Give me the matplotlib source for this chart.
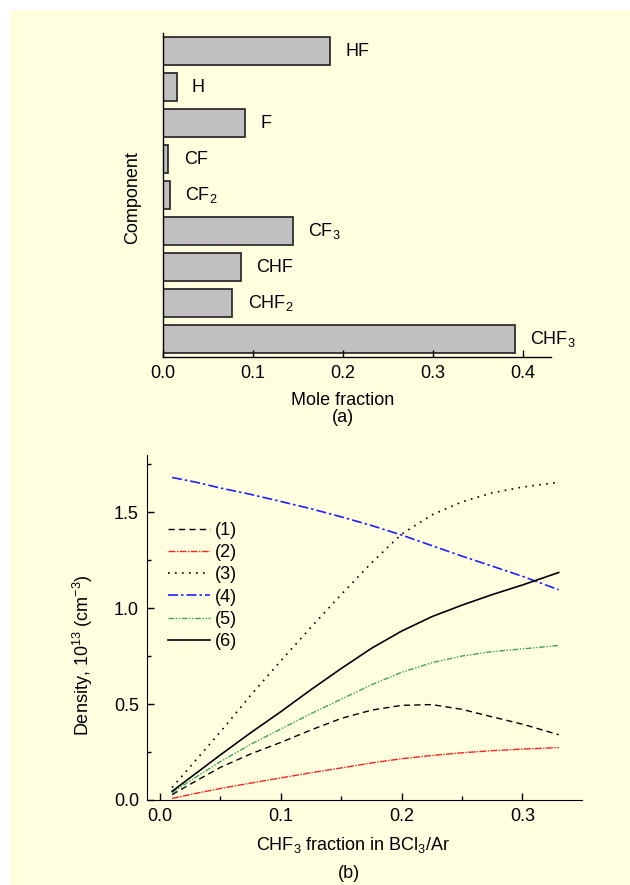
import numpy as np
import matplotlib
matplotlib.use('Agg')
import matplotlib.pyplot as plt
import matplotlib.patches as patches
from matplotlib.ticker import MultipleLocator

plt.rcParams['font.family'] = ['Liberation Sans', 'DejaVu Sans']
plt.rcParams['mathtext.fontset'] = 'custom'
plt.rcParams['mathtext.rm'] = 'Liberation Sans'
plt.rcParams['mathtext.default'] = 'regular'
plt.rcParams['font.size'] = 13

# (a) mole fractions, drawn top to bottom
components = ['HF', 'H', 'F', 'CF', 'CF$_2$', 'CF$_3$', 'CHF', 'CHF$_2$', 'CHF$_3$']
mole_frac = [0.186, 0.015, 0.091, 0.006, 0.0074, 0.144, 0.087, 0.077, 0.391]

# (b) densities vs CHF3 fraction
chf3_frac = [0.01, 0.03, 0.05, 0.075, 0.1, 0.125, 0.15, 0.175, 0.2, 0.225, 0.25, 0.275, 0.3, 0.33]
dens1 = [0.028, 0.10, 0.17, 0.24, 0.30, 0.365, 0.425, 0.468, 0.493, 0.497, 0.472, 0.433, 0.395, 0.34]
dens2 = [0.008, 0.035, 0.06, 0.088, 0.115, 0.142, 0.167, 0.193, 0.215, 0.232, 0.246, 0.257, 0.265, 0.273]
dens3 = [0.065, 0.21, 0.355, 0.545, 0.725, 0.90, 1.07, 1.235, 1.385, 1.485, 1.553, 1.60, 1.63, 1.655]
dens4 = [1.68, 1.655, 1.625, 1.592, 1.555, 1.517, 1.475, 1.43, 1.38, 1.325, 1.27, 1.218, 1.165, 1.095]
dens5 = [0.038, 0.12, 0.20, 0.29, 0.37, 0.45, 0.525, 0.60, 0.665, 0.715, 0.75, 0.773, 0.787, 0.805]
dens6 = [0.045, 0.14, 0.235, 0.35, 0.46, 0.575, 0.685, 0.79, 0.88, 0.955, 1.015, 1.07, 1.12, 1.185]
series_labels = ['(1)', '(2)', '(3)', '(4)', '(5)', '(6)']

W, H = 630, 885
fig = plt.figure(figsize=(W / 100, H / 100), dpi=100)
fig.patch.set_facecolor('white')
fig.patches.append(patches.Rectangle((10 / W, 0), 1 - 10 / W, 1 - 10 / H,
                                     transform=fig.transFigure, facecolor='#ffffe0',
                                     edgecolor='none', zorder=-10))

# ---- panel (a)
ax1 = fig.add_axes([163 / W, 1 - 357 / H, 388 / W, 324 / H])
ax1.set_facecolor('none')
ypos = np.arange(len(components))[::-1]
ax1.barh(ypos, mole_frac, height=0.8, color='#c0c0c0', edgecolor='#202020', linewidth=1.2)
for y, v, name in zip(ypos, mole_frac, components):
    ax1.annotate(name, (v, y), xytext=(11, 0), textcoords='offset points',
                 ha='left', va='center', fontsize=13)
ax1.set_xlim(0, 0.431)
ax1.set_ylim(-0.5, 8.5)
ax1.set_yticks([])
ax1.set_xticks([0.0, 0.1, 0.2, 0.3, 0.4])
ax1.set_xticklabels(['0.0', '0.1', '0.2', '0.3', '0.4'])
ax1.tick_params(axis='x', direction='in', length=5, width=1, pad=6, labelsize=13)
for s in ['top', 'right']:
    ax1.spines[s].set_visible(False)
for s in ['left', 'bottom']:
    ax1.spines[s].set_linewidth(1)
ax1.set_ylabel('Component', fontsize=13)
ax1.yaxis.set_label_coords((133 - 163) / 388, (357 - 198) / 324)
ax1.yaxis.label.set_verticalalignment('center')
ax1.set_xlabel('Mole fraction', fontsize=13)
ax1.xaxis.set_label_coords((343 - 163) / 388, (357 - 400) / 324)
ax1.xaxis.label.set_verticalalignment('center')
fig.text(343 / W, 1 - 418 / H, '(a)', ha='center', va='center', fontsize=13)

# ---- panel (b)
ax2 = fig.add_axes([147.3 / W, 1 - 800 / H, 434.4 / W, 345 / H])
ax2.set_facecolor('none')
styles = [
    dict(color='black', lw=1.0, ls=(0, (4.5, 3))),
    dict(color='#ff2020', lw=1.0, ls=(0, (5, 1, 1, 1))),
    dict(color='black', lw=1.2, ls=(0, (1, 3.2))),
    dict(color='#1f1fff', lw=1.2, ls=(0, (6, 1.8, 1.5, 1.8))),
    dict(color='#3f9f68', lw=1.0, ls=(0, (4, 1.2, 1, 1.2, 1, 1.2))),
    dict(color='black', lw=1.2, ls='-'),
]
for d, lab, st in zip([dens1, dens2, dens3, dens4, dens5, dens6], series_labels, styles):
    ax2.plot(chf3_frac, d, label=lab, **st)
ax2.set_xlim(-0.0105, 0.349)
ax2.set_ylim(0, 1.797)
ax2.xaxis.set_major_locator(MultipleLocator(0.1))
ax2.xaxis.set_minor_locator(MultipleLocator(0.05))
ax2.yaxis.set_major_locator(MultipleLocator(0.5))
ax2.yaxis.set_minor_locator(MultipleLocator(0.25))
ax2.xaxis.set_major_formatter(matplotlib.ticker.FormatStrFormatter('%.1f'))
ax2.yaxis.set_major_formatter(matplotlib.ticker.FormatStrFormatter('%.1f'))
ax2.tick_params(which='major', direction='in', length=5, width=1, pad=6, labelsize=13)
ax2.tick_params(which='minor', direction='in', length=3, width=1)
for s in ['top', 'right']:
    ax2.spines[s].set_visible(False)
ax2.set_xlabel('CHF$_3$ fraction in BCl$_3$/Ar', fontsize=13)
ax2.xaxis.set_label_coords((353 - 147.3) / 434.4, (800 - 845) / 345)
ax2.xaxis.label.set_verticalalignment('center')
ax2.set_ylabel('Density, 10$^{13}$ (cm$^{-3}$)', fontsize=13)
ax2.yaxis.set_label_coords((83 - 147.3) / 434.4, (800 - 655) / 345)
ax2.yaxis.label.set_verticalalignment('center')
ax2.legend(loc='upper left', bbox_to_anchor=((168 - 147.3) / 434.4, (800 - 522) / 345),
           frameon=False, borderpad=0, borderaxespad=0, handlelength=2.3,
           handletextpad=0.3, labelspacing=0.29, fontsize=13)
fig.text(349 / W, 1 - 873 / H, '(b)', ha='center', va='center', fontsize=13)

fig.savefig('out.png', dpi=100, facecolor=fig.get_facecolor())
